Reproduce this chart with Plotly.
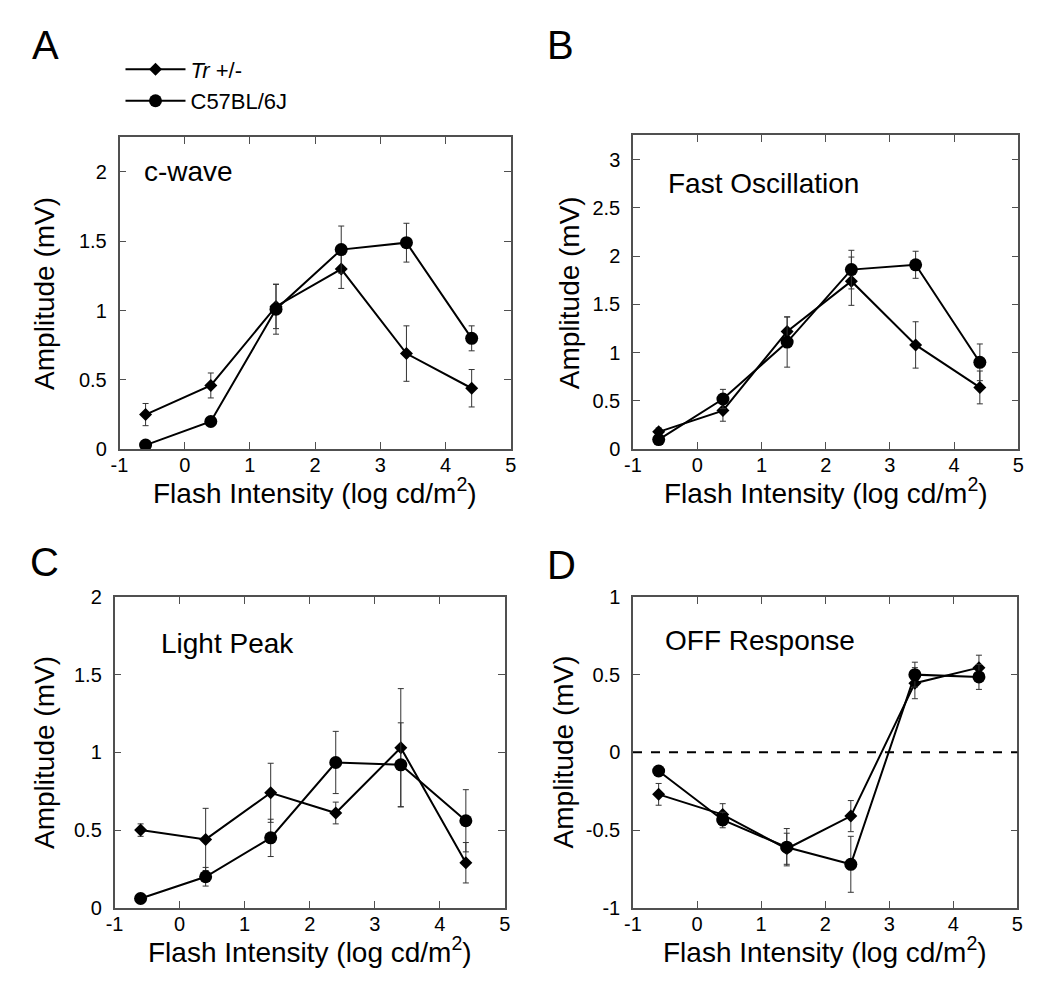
import plotly.graph_objects as go

# ---------------- data ----------------
flash = [-0.6, 0.4, 1.4, 2.4, 3.4, 4.4]

# Panel A: c-wave
a_tr = [0.25, 0.46, 1.03, 1.30, 0.69, 0.44]
a_tr_err = [0.08, 0.09, 0.16, 0.14, 0.20, 0.135]
a_wt = [0.03, 0.20, 1.01, 1.44, 1.49, 0.80]
a_wt_err = [0.0, 0.02, 0.18, 0.17, 0.14, 0.09]

# Panel B: Fast Oscillation
b_tr = [0.18, 0.40, 1.22, 1.74, 1.08, 0.64]
b_tr_err = [0.04, 0.11, 0.15, 0.25, 0.24, 0.17]
b_wt = [0.10, 0.52, 1.11, 1.86, 1.91, 0.90]
b_wt_err = [0.03, 0.10, 0.26, 0.20, 0.14, 0.19]

# Panel C: Light Peak
c_tr = [0.50, 0.44, 0.74, 0.61, 1.03, 0.29]
c_tr_err = [0.04, 0.20, 0.19, 0.07, 0.38, 0.13]
c_wt = [0.06, 0.20, 0.45, 0.935, 0.92, 0.56]
c_wt_err = [0.0, 0.06, 0.12, 0.20, 0.27, 0.20]

# Panel D: OFF Response
d_tr = [-0.27, -0.40, -0.62, -0.41, 0.445, 0.545]
d_tr_err = [0.07, 0.07, 0.10, 0.10, 0.10, 0.08]
d_wt = [-0.12, -0.435, -0.61, -0.72, 0.50, 0.485]
d_wt_err = [0.0, 0.05, 0.12, 0.18, 0.08, 0.08]

x_ticks = [-1, 0, 1, 2, 3, 4, 5]
x_tick_text = ["-1", "0", "1", "2", "3", "4", "5"]
series_names = ["<i>Tr</i> +/-", "C57BL/6J"]
panel_letters = ["A", "B", "C", "D"]
panel_titles = ["c-wave", "Fast Oscillation", "Light Peak", "OFF Response"]
y_ranges = [[0, 2.25], [0, 3.25], [0, 2], [-1, 1]]
y_tick_vals = [
    [0, 0.5, 1, 1.5, 2],
    [0, 0.5, 1, 1.5, 2, 2.5, 3],
    [0, 0.5, 1, 1.5, 2],
    [-1, -0.5, 0, 0.5, 1],
]
y_tick_text = [
    ["0", "0.5", "1", "1.5", "2"],
    ["0", "0.5", "1", "1.5", "2", "2.5", "3"],
    ["0", "0.5", "1", "1.5", "2"],
    ["-1", "-0.5", "0", "0.5", "1"],
]
title_pos = [(-0.65, 2.0), (-0.48, 2.75), (-0.32, 1.7), (-0.53, 0.72)]

# ---------------- layout geometry ----------------
PAGE_OFF = 8            # default body margin of the html page
W, H = 1050 - PAGE_OFF, 1000 - PAGE_OFF
# plot areas in page pixels: (left, right, top, bottom)
boxes = [(112, 509, 129, 448), (633, 1024, 127, 448),
         (107, 503, 599, 917), (633, 1023, 599, 917)]
letter_pos = [(37, 35), (559, 35), (36, 563), (560, 566)]
ytitle_x = [36, 568, 36, 562]


def px(x):
    return (x - PAGE_OFF) / W


def py(y):
    return 1 - (y - PAGE_OFF) / H


FONT = "Arial, Liberation Sans, Helvetica, sans-serif"
FRAME = "#505050"

fig = go.Figure()

panels = [
    (a_tr, a_tr_err, a_wt, a_wt_err),
    (b_tr, b_tr_err, b_wt, b_wt_err),
    (c_tr, c_tr_err, c_wt, c_wt_err),
    (d_tr, d_tr_err, d_wt, d_wt_err),
]

for i, (tr, tre, wt, wte) in enumerate(panels):
    ax = "" if i == 0 else str(i + 1)
    for name, ys, es, sym, msize in [
        (series_names[0], tr, tre, "diamond", 10),
        (series_names[1], wt, wte, "circle", 13),
    ]:
        fig.add_trace(go.Scatter(
            x=flash, y=ys, name=name,
            mode="lines+markers",
            line=dict(color="black", width=2),
            marker=dict(symbol=sym, size=msize, color="black"),
            error_y=dict(type="data", array=es, visible=True,
                         color="#333333", thickness=1, width=3),
            xaxis="x" + ax, yaxis="y" + ax,
            showlegend=(i == 0),
        ))

annotations = []
shapes = []
for i in range(4):
    l, r, t, b = boxes[i]
    ax = "" if i == 0 else str(i + 1)
    xdom = [px(l), px(r)]
    ydom = [py(b), py(t)]
    common = dict(
        showline=True, linecolor=FRAME, linewidth=1.5, mirror="ticks",
        ticks="inside", ticklen=7, tickwidth=1, tickcolor=FRAME,
        showgrid=False, zeroline=False,
        tickfont=dict(family=FONT, size=20, color="black"),
    )
    fig.update_layout(**{
        "xaxis" + ax: dict(domain=xdom, range=[-1, 5], tickvals=x_ticks,
                           ticktext=x_tick_text, anchor="y" + ax,
                           ticklabelstandoff=-3, **common),
        "yaxis" + ax: dict(domain=ydom, range=y_ranges[i],
                           tickvals=y_tick_vals[i], ticktext=y_tick_text[i],
                           anchor="x" + ax, ticklabelstandoff=7, **common),
    })
    # panel letter
    lx, ly = letter_pos[i]
    annotations.append(dict(
        text=panel_letters[i], xref="paper", yref="paper",
        x=px(lx), y=py(ly),
        xanchor="center", yanchor="middle", showarrow=False,
        font=dict(family=FONT, size=40, color="black")))
    # panel title inside plot
    annotations.append(dict(
        text=panel_titles[i], xref="x" + ax, yref="y" + ax,
        x=title_pos[i][0], y=title_pos[i][1],
        xanchor="left", yanchor="middle", showarrow=False,
        font=dict(family=FONT, size=28, color="black")))
    # y axis title
    annotations.append(dict(
        text="Amplitude (mV)", xref="paper", yref="paper",
        x=px(ytitle_x[i]), y=py((t + b) / 2), textangle=-90,
        xanchor="center", yanchor="middle", showarrow=False,
        font=dict(family=FONT, size=28, color="black")))
    # x axis title
    annotations.append(dict(
        text="Flash Intensity (log cd/m<sup>2</sup>)", xref="paper", yref="paper",
        x=px((l + r) / 2), y=py(b + 43),
        xanchor="center", yanchor="middle", showarrow=False,
        font=dict(family=FONT, size=28, color="black")))

# dashed zero line in panel D
shapes.append(dict(type="line", xref="x4 domain", yref="y4",
                   x0=0, x1=1, y0=0, y1=0,
                   line=dict(color="black", width=2, dash="dash")))

fig.update_layout(
    width=W, height=H,
    margin=dict(l=0, r=0, t=0, b=0),
    paper_bgcolor="white", plot_bgcolor="white",
    annotations=annotations, shapes=shapes,
    legend=dict(x=px(113), y=py(38), xanchor="left", yanchor="top",
                font=dict(family=FONT, size=22, color="black"),
                bgcolor="rgba(0,0,0,0)", itemwidth=60, tracegroupgap=0),
)

fig.write_html("out.html")
